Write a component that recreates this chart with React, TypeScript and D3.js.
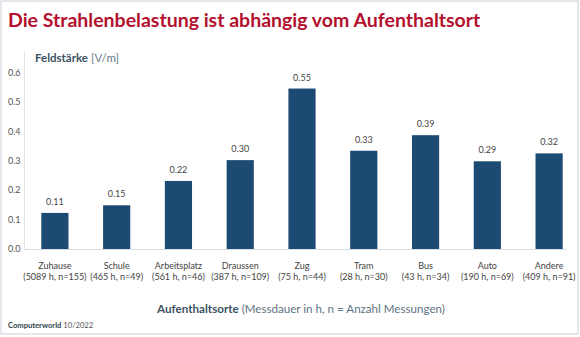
import React from "react";
import * as d3 from "d3";

const categories = ["Zuhause", "Schule", "Arbeitsplatz", "Draussen", "Zug", "Tram", "Bus", "Auto", "Andere"];
const details = ["(5089 h, n=155)", "(465 h, n=49)", "(561 h, n=46)", "(387 h, n=109)", "(75 h, n=44)", "(28 h, n=30)", "(43 h, n=34)", "(190 h, n=69)", "(409 h, n=91)"];
const values = [0.123, 0.149, 0.232, 0.303, 0.547, 0.335, 0.388, 0.299, 0.326];
const valueLabels = ["0.11", "0.15", "0.22", "0.30", "0.55", "0.33", "0.39", "0.29", "0.32"];
const yTicks = [0, 0.1, 0.2, 0.3, 0.4, 0.5, 0.6];

const W = 580;
const H = 337;
const FONT = "Lato, 'Noto Sans', sans-serif";

export default function App() {
  const x = d3.scaleBand<string>().domain(categories).range([24, 580]).paddingInner(0.56).paddingOuter(0.28);
  const y = d3.scaleLinear().domain([0, 0.6]).range([249, 73]);
  const bw = x.bandwidth();

  return (
    <svg width={W} height={H} style={{ position: "absolute", left: 0, top: 0, fontFamily: FONT }}>
      <rect x={0} y={0} width={W} height={H} fill="#fff" />
      <rect x={1} y={1} width={577} height={333} fill="none" stroke="#d3d9df" strokeWidth={1.2} />
      <text x={8} y={27} fill="#b3112e" fontSize={19.5} fontWeight={700}>
        Die Strahlenbelastung ist abhängig vom Aufenthaltsort
      </text>
      {/* y axis line */}
      <line x1={24.5} x2={24.5} y1={52} y2={249} stroke="#dfe5ea" strokeWidth={1} />
      <line x1={24} x2={566} y1={249.5} y2={249.5} stroke="#d6dde3" strokeWidth={1} />
      <text x={35} y={62} fontSize={11.5} fill="#3b5263">
        <tspan fontWeight={700}>Feldstärke</tspan>
        <tspan fill="#667c8c"> [V/m]</tspan>
      </text>
      {yTicks.map((t) => (
        <text key={t} x={8} y={y(t)} dy="0.35em" fontSize={9} fill="#555">
          {d3.format(".1f")(t)}
        </text>
      ))}
      {categories.map((c, i) => {
        const cx = (x(c) as number) + bw / 2;
        return (
          <g key={c}>
            <rect x={x(c)} y={y(values[i])} width={bw} height={y(0) - y(values[i])} fill="#1d4a73" />
            <text x={cx} y={y(values[i]) - 8} textAnchor="middle" fontSize={9} fill="#444">
              {valueLabels[i]}
            </text>
            <text x={cx} y={269} textAnchor="middle" fontSize={9} fill="#444">
              {c}
            </text>
            <text x={cx} y={280} textAnchor="middle" fontSize={9} fill="#444">
              {details[i]}
            </text>
          </g>
        );
      })}
      <text x={301} y={313} textAnchor="middle" fontSize={11.6} fill="#3b5263">
        <tspan fontWeight={700}>Aufenthaltsorte</tspan>
        <tspan fill="#5d7383"> (Messdauer in h, n = Anzahl Messungen)</tspan>
      </text>
      <text x={8} y={328} fontSize={7.6} fill="#2e3f4c">
        <tspan fontWeight={700}>Computerworld</tspan>
        <tspan fill="#555"> 10/2022</tspan>
      </text>
    </svg>
  );
}
